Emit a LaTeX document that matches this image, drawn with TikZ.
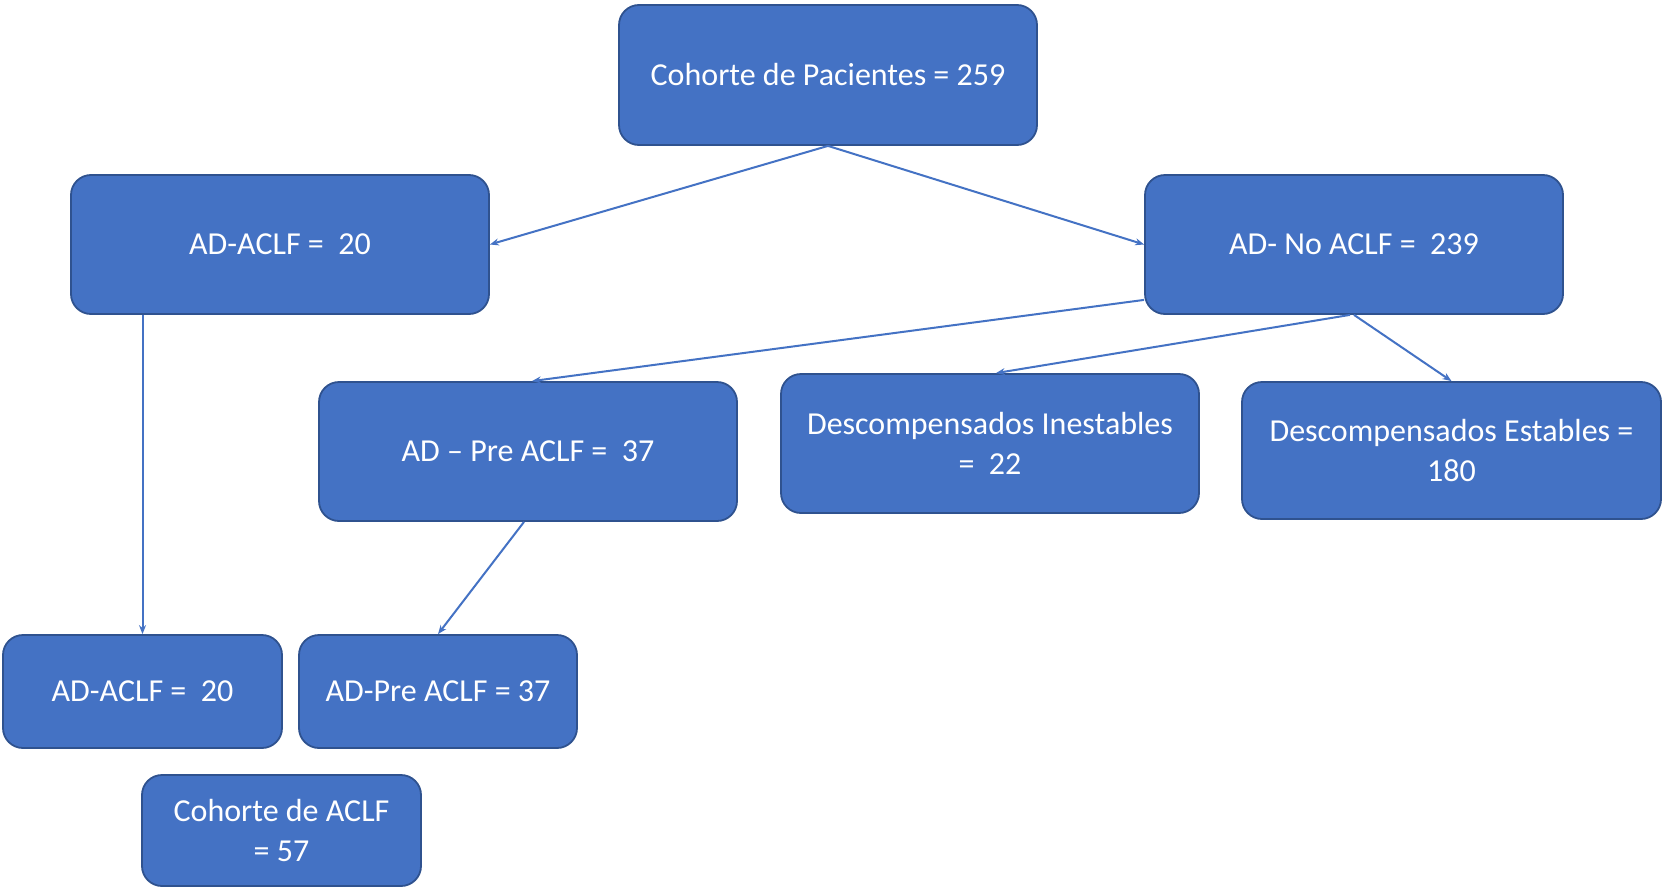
\documentclass[tikz,border=0pt]{standalone}
\usepackage{fontspec}
\setmainfont{Carlito}
\usetikzlibrary{arrows.meta}
\definecolor{boxfill}{HTML}{4472C4}
\definecolor{boxline}{HTML}{2F528F}
\definecolor{arrowcol}{HTML}{4472C4}
\begin{document}
\begin{tikzpicture}[x=1pt,y=-1pt,
  flowbox/.style={draw=boxline, line width=1.8pt, fill=boxfill, rounded corners=20pt,
    text=white, align=center, inner sep=0pt,
    font=\fontsize{32}{39.5}\selectfont},
  link/.style={draw=arrowcol, line width=2pt, -{Stealth[length=9pt,width=7pt]}}]
\useasboundingbox[fill=white] (0,0) rectangle (1667,894);

\node[flowbox, minimum width=418pt, minimum height=140pt] (n1) at (828,75) {Cohorte de Pacientes = 259};
\node[flowbox, minimum width=418pt, minimum height=139pt] (n2) at (280,244.5) {AD-ACLF =\ \ 20};
\node[flowbox, minimum width=418pt, minimum height=139pt] (n3) at (1354,244.5) {AD- No ACLF =\ \ 239};
\node[flowbox, minimum width=418pt, minimum height=139pt] (n4) at (528,451.5) {AD -- Pre ACLF =\ \ 37};
\node[flowbox, minimum width=418pt, minimum height=139pt] (n5) at (990,443.5) {Descompensados Inestables\\ =\ \ 22};
\node[flowbox, minimum width=419pt, minimum height=137pt] (n6) at (1451.5,450.5) {Descompensados Estables =\\ 180};
\node[flowbox, minimum width=279pt, minimum height=113pt] (n7) at (142.5,691.5) {AD-ACLF =\ \ 20};
\node[flowbox, minimum width=278pt, minimum height=113pt] (n8) at (438,691.5) {AD-Pre ACLF = 37};
\node[flowbox, minimum width=279pt, minimum height=111pt] (n9) at (281.5,830.5) {Cohorte de ACLF\\ = 57};

\draw[link] (n1.south) -- (n2.east);
\draw[link] (n1.south) -- (n3.west);
\draw[link] ([yshift=15pt]n3.south west) -- ([xshift=4pt]n4.north);
\draw[link] ([xshift=-4pt]n3.south) -- ([xshift=6pt]n5.north);
\draw[link] (n3.south) -- (n6.north);
\draw[link] (n2.south -| n7.north) -- (n7.north);
\draw[link] ([xshift=-4pt]n4.south) -- (n8.north);
\end{tikzpicture}
\end{document}
